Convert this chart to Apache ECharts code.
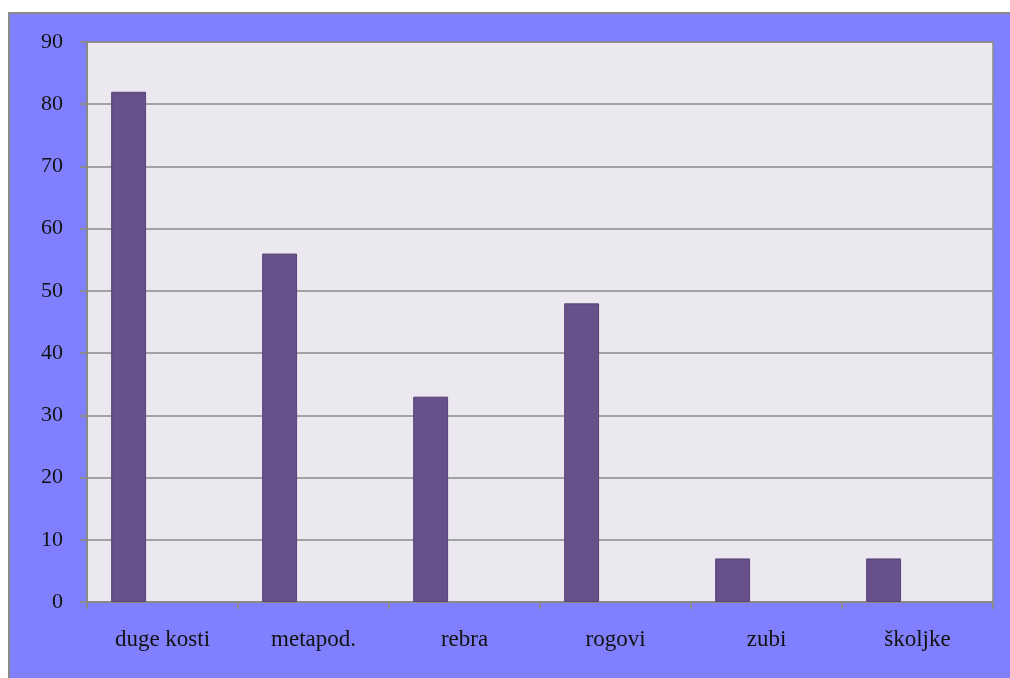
<!doctype html>
<html>
<head>
<meta charset="UTF-8">
<title>kosti</title>
<style>
  html, body { margin: 0; padding: 0; background: #ffffff; }
  #frame {
    position: absolute; left: 8px; top: 12px; width: 1002px; height: 666px;
    background: #8080ff; border-left: 2px solid #8a8a8a; border-top: 2px solid #8a8a8a;
    box-sizing: border-box;
  }
  #main { width: 100%; height: 100%; }
</style>
</head>
<body>
<div id="frame"><div id="main"></div></div>
<script src="https://cdn.jsdelivr.net/npm/echarts@6/dist/echarts.min.js"></script>
<script type="text/javascript">
  var categories = ['duge kosti', 'metapod.', 'rebra', 'rogovi', 'zubi', 'školjke'];
  var values = [82, 56, 33, 48, 7, 7];
  var emptyValues = ['-', '-', '-', '-', '-', '-'];

  var chart = echarts.init(document.getElementById('main'));
  var option = {
    animation: false,
    textStyle: { fontFamily: 'Liberation Serif, serif' },
    grid: {
      left: 77, top: 28, width: 906, height: 560,
      show: true, backgroundColor: '#ebe8ef', borderColor: '#8a8a8a', borderWidth: 1.5
    },
    xAxis: {
      type: 'category',
      data: categories,
      axisLine: { lineStyle: { color: '#8a8a8a', width: 2 } },
      axisTick: { show: true, length: 7, lineStyle: { color: '#8a8a8a', width: 2 } },
      axisLabel: { color: '#111111', fontSize: 23, margin: 26, fontFamily: 'Liberation Serif, serif' }
    },
    yAxis: {
      type: 'value',
      min: 0, max: 90, interval: 10,
      axisLine: { show: true, lineStyle: { color: '#8a8a8a', width: 2 } },
      axisTick: { show: true, length: 7, lineStyle: { color: '#8a8a8a', width: 2 } },
      axisLabel: { color: '#111111', fontSize: 22, margin: 24, fontFamily: 'Liberation Serif, serif' },
      splitLine: { lineStyle: { color: '#8a8a8a', width: 1.5 } }
    },
    series: [{
      type: 'bar',
      data: values,
      barCategoryGap: '32%',
      barGap: '94%',
      itemStyle: { color: '#68508a', borderColor: '#574278', borderWidth: 1 }
    }, {
      type: 'bar',
      data: emptyValues,
      itemStyle: { color: '#68508a' }
    }]
  };
  chart.setOption(option);
</script>
</body>
</html>
